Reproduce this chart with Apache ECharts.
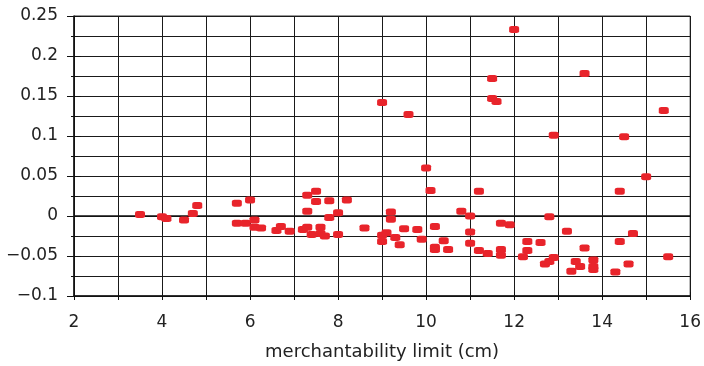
<!DOCTYPE html>
<html>
<head>
<meta charset="utf-8">
<script src="https://cdn.jsdelivr.net/npm/echarts@6/dist/echarts.min.js"></script>
<style>html,body{margin:0;padding:0;background:#fff;}#c{width:704px;height:366px;}</style>
</head>
<body>
<div id="c"></div>
<script>
var xLimit = [3.5,4.0,4.1,4.5,4.7,4.8,5.7,6.0,5.7,5.9,6.1,6.1,6.25,6.6,6.7,6.9,7.3,7.5,7.5,7.8,8.2,7.3,8.0,7.8,7.2,7.3,7.6,7.4,7.6,7.7,8.0,8.6,9.2,9.2,9.0,9.1,9.0,9.3,9.4,9.5,9.8,9.9,10.0,10.1,10.2,10.4,10.2,10.2,10.5,10.8,11.0,11.0,11.0,11.2,11.2,11.4,11.7,11.9,11.7,11.7,12.2,12.3,12.3,12.6,12.8,12.7,12.8,12.9,13.2,13.3,13.4,13.5,13.6,13.8,13.8,13.8,14.3,14.4,14.4,14.7,14.6,15.0,15.5,9.0,9.6,12.0,11.5,11.5,11.6,13.6,15.4,12.9,14.5];
var yValue = [0.002,-0.001,-0.003,-0.005,0.003,0.013,0.016,0.020,-0.009,-0.009,-0.005,-0.014,-0.015,-0.018,-0.013,-0.019,0.026,0.031,0.018,0.019,0.020,0.006,0.004,-0.002,-0.017,-0.014,-0.014,-0.023,-0.022,-0.025,-0.023,-0.015,0.005,-0.004,-0.024,-0.021,-0.032,-0.027,-0.036,-0.016,-0.017,-0.029,0.060,0.032,-0.013,-0.031,-0.039,-0.042,-0.042,0.006,0.000,-0.020,-0.034,0.031,-0.043,-0.047,-0.009,-0.011,-0.042,-0.049,-0.051,-0.032,-0.043,-0.033,-0.001,-0.060,-0.057,-0.052,-0.019,-0.069,-0.057,-0.063,-0.040,-0.055,-0.063,-0.067,-0.070,0.031,-0.032,-0.022,-0.060,0.049,-0.051,0.142,0.127,0.233,0.172,0.147,0.143,0.178,0.132,0.101,0.099];
var xTickLabels = ['2','4','6','8','10','12','14','16'];
var yTickLabels = ['\u22120.1','\u22120.05','0','0.05','0.1','0.15','0.2','0.25'];

var pts = xLimit.map(function(x,i){ return [x, yValue[i]]; });
var font = 'DejaVu Sans, Liberation Sans, sans-serif';
var lineCol = '#1a1a1a';
function yFmt(v){
  var k = Math.round((v + 0.1) / 0.05);
  if (Math.abs(v + 0.1 - k*0.05) > 1e-6) return '';
  return yTickLabels[k] || '';
}
function xFmt(v){
  var k = Math.round((v - 2) / 2);
  return xTickLabels[k] || '';
}
var chart = echarts.init(document.getElementById('c'), null, {renderer:'canvas'});
chart.setOption({
  animation: false,
  backgroundColor: '#fff',
  grid: {left: 74, right: 11, top: 16, bottom: 70, show: true, borderColor: '#333', borderWidth: 1},
  xAxis: [{
    type: 'value', min: 2, max: 16, interval: 2,
    name: 'merchantability limit (cm)', nameLocation: 'middle', nameGap: 47,
    nameTextStyle: {fontFamily: font, fontSize: 18, color: '#222'},
    axisLine: {show: true, onZero: false, lineStyle: {color: '#111', width: 1.5}},
    axisTick: {show: true, length: 4, lineStyle: {color: '#111'}},
    minorTick: {show: true, splitNumber: 2, length: 4, lineStyle: {color: '#111'}},
    axisLabel: {fontFamily: font, fontSize: 17, color: '#222', margin: 18, formatter: xFmt},
    splitLine: {show: true, lineStyle: {color: lineCol, width: 1}},
    minorSplitLine: {show: true, lineStyle: {color: lineCol, width: 1}}
  },{
    type: 'value', min: 2, max: 16, interval: 2, position: 'bottom',
    axisLine: {show: false, onZero: false},
    axisTick: {show: true, inside: true, length: 4, lineStyle: {color: '#111'}},
    minorTick: {show: true, splitNumber: 2, length: 4, lineStyle: {color: '#111'}},
    axisLabel: {show: false}, splitLine: {show: false}
  }],
  yAxis: [{
    type: 'value', min: -0.1, max: 0.25, interval: 0.05,
    axisLine: {show: true, onZero: false, lineStyle: {color: '#111', width: 1.5}},
    axisTick: {show: true, length: 7, lineStyle: {color: '#111'}},
    minorTick: {show: true, splitNumber: 2, length: 3, lineStyle: {color: '#111'}},
    axisLabel: {fontFamily: font, fontSize: 17, color: '#222', margin: 16, formatter: yFmt},
    splitLine: {show: true, lineStyle: {color: lineCol, width: 1}},
    minorSplitLine: {show: true, lineStyle: {color: lineCol, width: 1}}
  },{
    type: 'value', min: -0.1, max: 0.25, interval: 0.05, position: 'left',
    axisLine: {show: false, onZero: false},
    axisTick: {show: true, inside: true, length: 7, lineStyle: {color: '#111'}},
    minorTick: {show: true, splitNumber: 2, length: 4, lineStyle: {color: '#111'}},
    axisLabel: {show: false}, splitLine: {show: false}
  }],
  series: [{
    type: 'scatter', data: pts,
    symbol: 'roundRect', symbolSize: [10, 7],
    itemStyle: {color: '#e8242b', opacity: 1},
    z: 5,
    markLine: {
      silent: true, symbol: 'none', label: {show: false},
      lineStyle: {color: '#111', width: 1.5, type: 'solid'},
      data: [{yAxis: 0}]
    }
  }]
});
</script>
</body>
</html>
